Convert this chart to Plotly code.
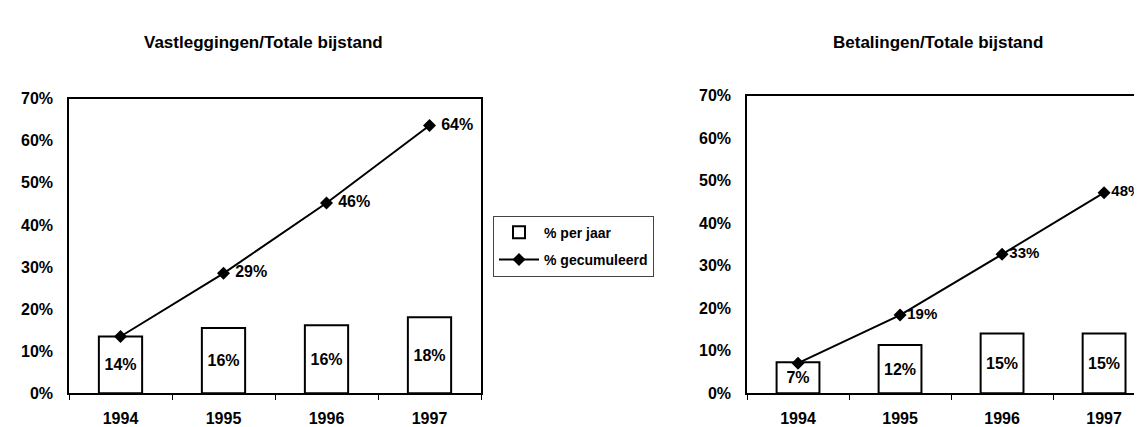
import plotly.graph_objects as go

W, H = 1142, 427

years = ["1994", "1995", "1996", "1997"]

# Vastleggingen / Totale bijstand
vast_per_jaar = [0.135, 0.155, 0.162, 0.181]
vast_per_jaar_labels = ["14%", "16%", "16%", "18%"]
vast_cum = [0.135, 0.285, 0.452, 0.636]
vast_cum_labels = ["", "29%", "46%", "64%"]

# Betalingen / Totale bijstand
bet_per_jaar = [0.073, 0.114, 0.141, 0.141]
bet_per_jaar_labels = ["7%", "12%", "15%", "15%"]
bet_cum = [0.071, 0.184, 0.327, 0.472]
bet_cum_labels = ["", "19%", "33%", "48%"]

titles = ["Vastleggingen/Totale bijstand", "Betalingen/Totale bijstand"]
legend_names = ["% per jaar", "% gecumuleerd"]

FONT = "Liberation Sans, Arial, sans-serif"

fig = go.Figure()


def add_pair(xa, ya, bars, bar_labels, cum, cum_labels, show, tmpl, lsize):
    fig.add_trace(go.Bar(
        x=years, y=bars, text=bar_labels, name=legend_names[0],
        xaxis=xa, yaxis=ya, showlegend=show, legendgroup="a",
        marker=dict(color="white", line=dict(color="black", width=2)),
        textposition="inside", insidetextanchor="middle", textangle=0,
        constraintext="none",
        textfont=dict(family=FONT, size=16, color="black", weight="bold"),
        hoverinfo="skip",
    ))
    fig.add_trace(go.Scatter(
        x=years, y=cum, text=cum_labels, name=legend_names[1],
        xaxis=xa, yaxis=ya, showlegend=show, legendgroup="b",
        mode="lines+markers+text", textposition="middle right",
        texttemplate=tmpl,
        line=dict(color="black", width=2),
        marker=dict(symbol="diamond", size=10, color="black"),
        textfont=dict(family=FONT, size=lsize, color="black", weight="bold"),
        cliponaxis=False, hoverinfo="skip",
    ))


add_pair("x", "y", vast_per_jaar, vast_per_jaar_labels, vast_cum, vast_cum_labels,
         True, " %{text}", 16)
add_pair("x2", "y2", bet_per_jaar, bet_per_jaar_labels, bet_cum, bet_cum_labels,
         False, "%{text}", 15)

tickfont = dict(family=FONT, size=16, color="black", weight="bold")

xcommon = dict(type="category", showline=True, linecolor="black", linewidth=1.5,
               mirror=True, ticks="outside", ticklen=5, tickcolor="black",
               tickson="boundaries", tickfont=tickfont, showgrid=False,
               zeroline=False, ticklabelstandoff=10, fixedrange=True)
ycommon = dict(range=[0, 0.7], dtick=0.1, tickformat=".0%", showline=True,
               linecolor="black", linewidth=1.5, ticks="", showgrid=False,
               zeroline=False, tickfont=tickfont, ticklabelstandoff=11,
               fixedrange=True)

fig.update_layout(
    width=W, height=H,
    margin=dict(l=0, r=0, t=0, b=0),
    paper_bgcolor="white", plot_bgcolor="white",
    barmode="overlay", bargap=0.58,
    xaxis=dict(domain=[61 / W, 473 / W], range=[-0.5, 3.5], anchor="y", **xcommon),
    yaxis=dict(domain=[34 / H, 341 / H], anchor="x", mirror=True, **ycommon),
    xaxis2=dict(domain=[739 / W, 1.0], range=[-0.5, 3.45], anchor="y2", **xcommon),
    yaxis2=dict(domain=[34 / H, 344 / H], anchor="x2", mirror=False, **ycommon),
    legend=dict(x=485 / W, y=(H - 208) / H, xanchor="left", yanchor="top",
                bgcolor="white", bordercolor="#444", borderwidth=1,
                font=dict(family=FONT, size=14, color="black", weight="bold"),
                tracegroupgap=6, itemwidth=40),
    annotations=[
        dict(text="<b>" + titles[0] + "</b>", x=255 / W, y=(H - 28) / H,
             xref="paper", yref="paper", xanchor="center", yanchor="middle",
             showarrow=False, font=dict(family=FONT, size=17, color="black")),
        dict(text="<b>" + titles[1] + "</b>", x=930 / W, y=(H - 28) / H,
             xref="paper", yref="paper", xanchor="center", yanchor="middle",
             showarrow=False, font=dict(family=FONT, size=17, color="black")),
    ],
)

fig.write_html("out.html")
